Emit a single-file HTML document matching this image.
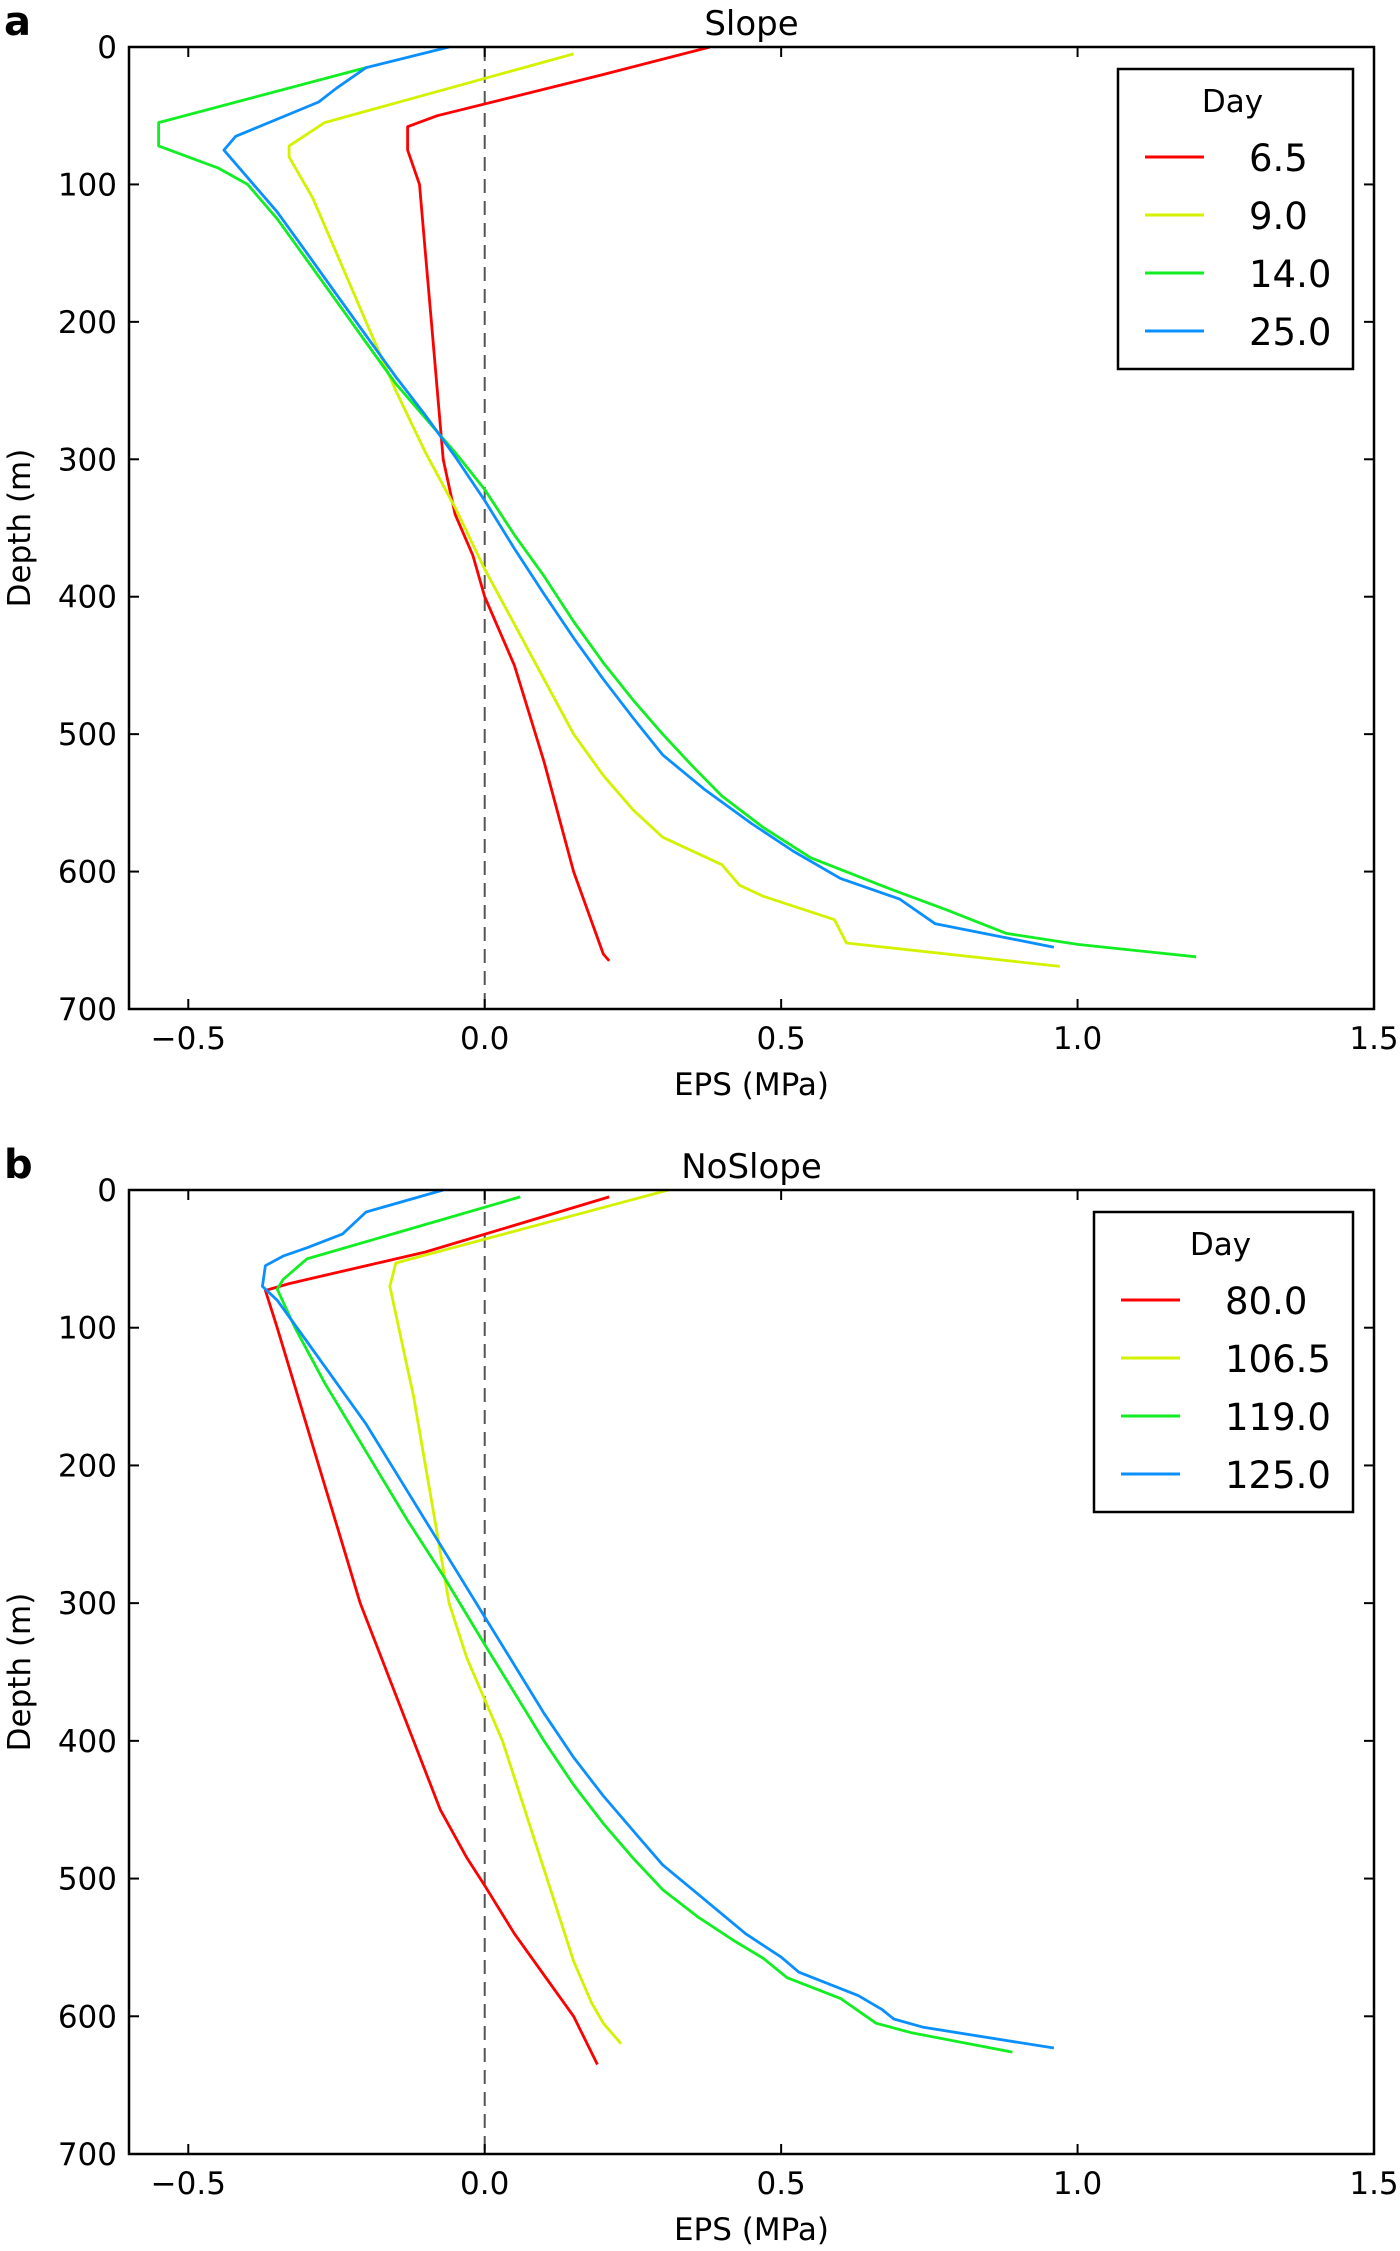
<!DOCTYPE html>
<html><head><meta charset="utf-8"><style>
html,body{margin:0;padding:0;background:#fff;}
svg{display:block;font-family:"DejaVu Sans","Liberation Sans",sans-serif;}
</style></head><body>
<svg id="fig" width="1400" height="2251" viewBox="0 0 1400 2251" xmlns="http://www.w3.org/2000/svg"></svg>
<script>
const xTicks = [-0.5, 0.0, 0.5, 1.0, 1.5];
const xTickLabels = ["\u22120.5", "0.0", "0.5", "1.0", "1.5"];
const yTicks = [0, 100, 200, 300, 400, 500, 600, 700];
const colors = ["#ff0000", "#d4f200", "#11ee22", "#0a8fff"];
const daysA = ["6.5", "9.0", "14.0", "25.0"];
const daysB = ["80.0", "106.5", "119.0", "125.0"];
// Panel a (x: EPS MPa, y: depth m)
const a_red_x = [0.38,0.2,-0.08,-0.13,-0.13,-0.11,-0.1,-0.09,-0.08,-0.07,-0.05,-0.02,0,0.05,0.1,0.15,0.2,0.21];
const a_red_y = [0,20,50,58,75,100,150,200,250,300,340,370,400,450,520,600,660,665];
const a_yel_x = [0.15,-0.27,-0.33,-0.33,-0.29,-0.25,-0.2,-0.15,-0.1,-0.05,0,0.05,0.1,0.15,0.2,0.25,0.3,0.4,0.43,0.47,0.59,0.61,0.97];
const a_yel_y = [5,55,72,80,110,150,200,250,295,335,380,420,460,500,530,555,575,595,610,618,635,652,669];
const a_grn_x = [-0.2,-0.55,-0.55,-0.45,-0.4,-0.35,-0.3,-0.25,-0.2,-0.15,-0.1,-0.05,0,0.05,0.1,0.15,0.2,0.25,0.3,0.35,0.4,0.47,0.55,0.68,0.78,0.88,1.0,1.2];
const a_grn_y = [15,55,72,88,100,125,155,185,215,245,270,295,322,355,385,418,448,475,500,523,545,568,590,612,628,645,653,662];
const a_blu_x = [-0.06,-0.2,-0.25,-0.28,-0.42,-0.44,-0.4,-0.35,-0.3,-0.25,-0.2,-0.15,-0.1,-0.05,0,0.05,0.1,0.15,0.2,0.25,0.3,0.37,0.45,0.52,0.6,0.7,0.76,0.96];
const a_blu_y = [0,15,30,40,65,75,95,120,150,180,210,240,268,298,330,365,398,430,460,488,515,540,565,585,605,620,638,655];
// Panel b
const b_red_x = [0.21,-0.1,-0.33,-0.37,-0.35,-0.315,-0.28,-0.245,-0.21,-0.165,-0.12,-0.075,-0.03,0,0.05,0.1,0.15,0.19];
const b_red_y = [5,45,68,73,100,150,200,250,300,350,400,450,485,505,540,570,600,635];
const b_yel_x = [0.31,-0.15,-0.16,-0.14,-0.12,-0.1,-0.08,-0.06,-0.03,0,0.03,0.06,0.09,0.12,0.15,0.18,0.2,0.23];
const b_yel_y = [0,53,70,110,150,200,250,300,340,370,400,440,480,520,560,590,605,620];
const b_grn_x = [0.06,-0.3,-0.34,-0.35,-0.32,-0.27,-0.2,-0.13,-0.07,0,0.05,0.1,0.15,0.2,0.25,0.3,0.36,0.42,0.47,0.51,0.6,0.66,0.72,0.89];
const b_grn_y = [5,50,65,72,100,140,190,240,280,330,365,400,432,460,485,508,528,545,558,572,587,605,612,626];
const b_blu_x = [-0.07,-0.2,-0.24,-0.3,-0.34,-0.37,-0.375,-0.35,-0.3,-0.25,-0.2,-0.15,-0.1,-0.05,0,0.05,0.1,0.15,0.2,0.25,0.3,0.37,0.44,0.5,0.53,0.63,0.67,0.69,0.74,0.96];
const b_blu_y = [0,16,32,42,48,55,70,80,110,140,170,205,240,275,310,345,380,412,440,465,490,515,540,557,568,585,595,602,608,623];

const NS = "http://www.w3.org/2000/svg";
const svg = document.getElementById('fig');
function mk(tag, attrs, parent, text) {
  const e = document.createElementNS(NS, tag);
  for (const k in attrs) e.setAttribute(k, attrs[k]);
  if (text !== undefined) e.textContent = text;
  parent.appendChild(e);
  return e;
}
function panel(opt) {
  const L = 129, R = 1374, T = opt.top, B = opt.bottom;
  const sx = v => L + (v - (-0.6)) / 2.1 * (R - L);
  const sy = v => T + v / 700 * (B - T);
  const g = mk('g', {}, svg);
  
  
  const z = mk('line', {x1: sx(0), x2: sx(0), y1: T, y2: B, stroke: '#555', 'stroke-width': 2, 'stroke-dasharray': '14,8'}, g);
  
  
  opt.series.forEach((s, i) => {
    const pts = s.x.map((v, j) => sx(v).toFixed(1) + ',' + sy(s.y[j]).toFixed(1)).join(' ');
    const pl = mk('polyline', {points: pts, fill: 'none', stroke: colors[i], 'stroke-width': 2.8, 'stroke-linejoin': 'round'}, g);
    
    
  });
  const fr = mk('rect', {x: L, y: T, width: R - L, height: B - T, fill: 'none', stroke: '#000', 'stroke-width': 2.5}, g);
  
  
  xTicks.forEach((v, i) => {
    const x = sx(v);
    mk('line', {x1: x, x2: x, y1: B, y2: B - 10, stroke: '#000', 'stroke-width': 2}, g);
    mk('line', {x1: x, x2: x, y1: T, y2: T + 10, stroke: '#000', 'stroke-width': 2}, g);
    const t = mk('text', {x: x, y: B + 40, 'font-size': 31, 'text-anchor': 'middle'}, g, xTickLabels[i]);
    
    
  });
  yTicks.forEach(v => {
    const y = sy(v);
    mk('line', {x1: L, x2: L + 10, y1: y, y2: y, stroke: '#000', 'stroke-width': 2}, g);
    mk('line', {x1: R, x2: R - 10, y1: y, y2: y, stroke: '#000', 'stroke-width': 2}, g);
    const t = mk('text', {x: L - 12, y: y + 11, 'font-size': 31, 'text-anchor': 'end'}, g, String(v));
    
    
  });
  const ti = mk('text', {x: (L + R) / 2, y: T - 12, 'font-size': 34, 'text-anchor': 'middle'}, g, opt.title);
  
  
  const xl = mk('text', {x: (L + R) / 2, y: B + 86, 'font-size': 31, 'text-anchor': 'middle'}, g, 'EPS (MPa)');
  
  
  const yl = mk('text', {x: 0, y: 0, 'font-size': 31, 'text-anchor': 'middle', transform: 'translate(30,' + ((T + B) / 2) + ') rotate(-90)'}, g, 'Depth (m)');
  
  
  const pl = mk('text', {x: 4, y: T - 12, 'font-size': 40, 'font-weight': 'bold'}, g, opt.letter);
  
  
  const lg = mk('g', {}, g);
  
  
  const lx = opt.legend[0], ly = opt.legend[1], lw = 1353 - lx, lh = 300;
  mk('rect', {x: lx, y: ly, width: lw, height: lh, fill: '#fff', stroke: '#000', 'stroke-width': 2.5}, lg);
  const lt = mk('text', {x: lx + lw / 2 - 3, y: ly + 43, 'font-size': 31, 'text-anchor': 'middle'}, lg, 'Day');
  
  
  opt.days.forEach((d, i) => {
    const yy = ly + 88 + i * 58;
    const e = mk('g', {}, lg);
    
    
    mk('line', {x1: lx + 27, x2: lx + 86, y1: yy, y2: yy, stroke: colors[i], 'stroke-width': 3}, e);
    mk('text', {x: lx + 131, y: yy + 14, 'font-size': 37, 'text-anchor': 'start'}, e, d);
  });
}
panel({name: 'slope', title: 'Slope', letter: 'a', top: 47, bottom: 1009, days: daysA, legend: [1118, 69],
  series: [{x: a_red_x, y: a_red_y}, {x: a_yel_x, y: a_yel_y}, {x: a_grn_x, y: a_grn_y}, {x: a_blu_x, y: a_blu_y}]});
panel({name: 'noslope', title: 'NoSlope', letter: 'b', top: 1190, bottom: 2154, days: daysB, legend: [1094, 1212],
  series: [{x: b_red_x, y: b_red_y}, {x: b_yel_x, y: b_yel_y}, {x: b_grn_x, y: b_grn_y}, {x: b_blu_x, y: b_blu_y}]});
</script>
</body></html>
